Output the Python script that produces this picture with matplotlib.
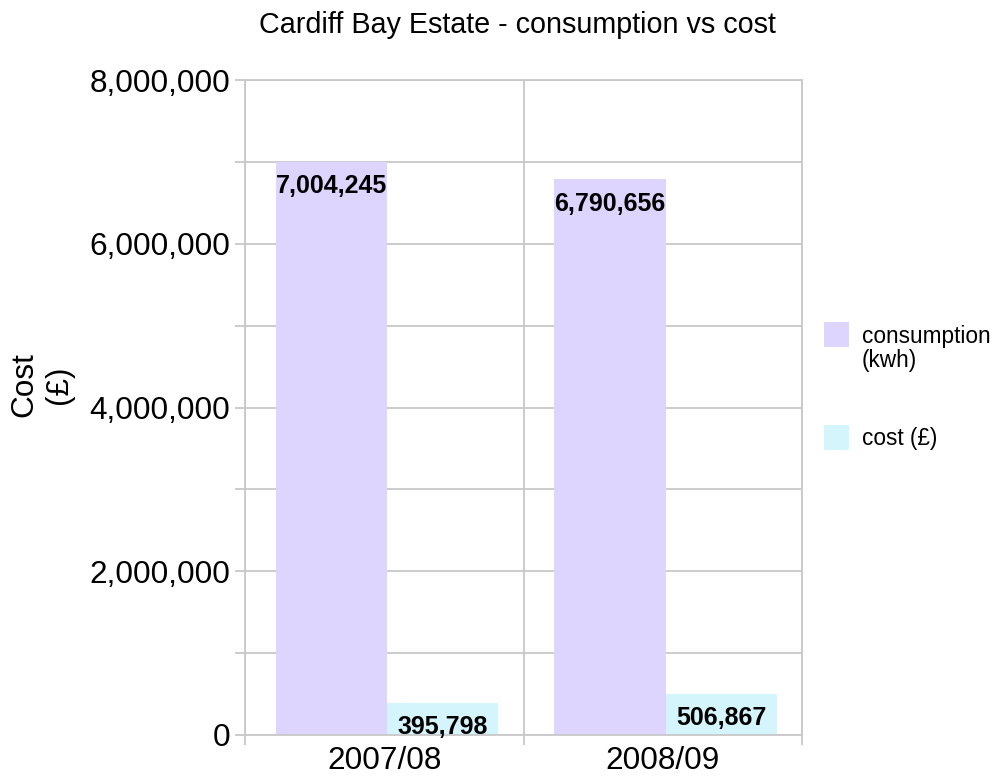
import numpy as np
import matplotlib
matplotlib.use('Agg')
import matplotlib.pyplot as plt
from matplotlib.patches import Rectangle
from matplotlib.ticker import MultipleLocator, FuncFormatter, FixedLocator

plt.rcParams['font.family'] = ['Liberation Sans', 'DejaVu Sans']

years = ['2007/08', '2008/09']
consumption = [7004245, 6790656]   # kwh
cost = [395798, 506867]            # GBP
series_names = ['consumption\n(kwh)', 'cost (£)']
col_cons = '#ddd5fd'
col_cost = '#d5f5fd'
gridcol = '#c8c8c8'

W, H = 996, 776
fig = plt.figure(figsize=(W / 100, H / 100), dpi=100)
ax = fig.add_axes([245 / W, 1 - 735 / H, (802 - 245) / W, (735 - 80) / H])

x = np.arange(len(years))
bw = 0.4
shift = 0.01
b1 = ax.bar(x - bw / 2 + shift, consumption, bw, color=col_cons, label=series_names[0], zorder=2)
b2 = ax.bar(x + bw / 2 + shift, cost, bw, color=col_cost, label=series_names[1], zorder=2)

# value labels just inside the top of each bar
for bars, vals in ((b1, consumption), (b2, cost)):
    for r, v in zip(bars, vals):
        ax.annotate('{:,}'.format(v), (r.get_x() + r.get_width() / 2, v),
                    xytext=(0, -9), textcoords='offset points',
                    ha='center', va='top', fontsize=18, fontweight='bold', zorder=3)

ax.set_xlim(-0.5, len(years) - 0.5)
ax.set_ylim(0, 8000000)

ax.yaxis.set_major_locator(MultipleLocator(2000000))
ax.yaxis.set_minor_locator(MultipleLocator(1000000))
ax.yaxis.set_major_formatter(FuncFormatter(lambda v, p: '{:,.0f}'.format(v)))
ax.set_xticks(x)
ax.set_xticklabels(years)
ax.xaxis.set_minor_locator(FixedLocator(np.arange(-0.5, len(years), 1.0)))

ax.tick_params(axis='y', which='both', length=7.2, width=1.3, color=gridcol, labelsize=22.7, pad=3.6)
ax.tick_params(axis='x', which='major', length=0, labelsize=22.7, pad=8)
ax.tick_params(axis='x', which='minor', length=7.2, width=1.3, color=gridcol)

ax.grid(True, which='both', axis='y', color=gridcol, lw=1.3, zorder=0)
ax.grid(True, which='minor', axis='x', color=gridcol, lw=1.3, zorder=0)
ax.set_axisbelow(True)
for s in ax.spines.values():
    s.set_color(gridcol)
    s.set_linewidth(1.3)

fig.text(517 / W, 1 - 25 / H, 'Cardiff Bay Estate - consumption vs cost',
         ha='center', va='center', fontsize=20.7)
fig.text(41.5 / W, 1 - 385 / H, 'Cost\n(£)', rotation=90, ha='center', va='center',
         multialignment='center', fontsize=22.7)

# legend drawn by hand so the swatch lines up with the first text line
for name, col, top, ty in ((series_names[0], col_cons, 322, 348.5),
                           (series_names[1], col_cost, 425, 438)):
    fig.patches.append(Rectangle((824 / W, 1 - (top + 25) / H), 25 / W, 25 / H,
                                 transform=fig.transFigure, color=col, lw=0))
    fig.text(862 / W, 1 - ty / H, name, ha='left', va='center',
             fontsize=16.3, linespacing=1.05)

fig.savefig('out.png', dpi=100)
